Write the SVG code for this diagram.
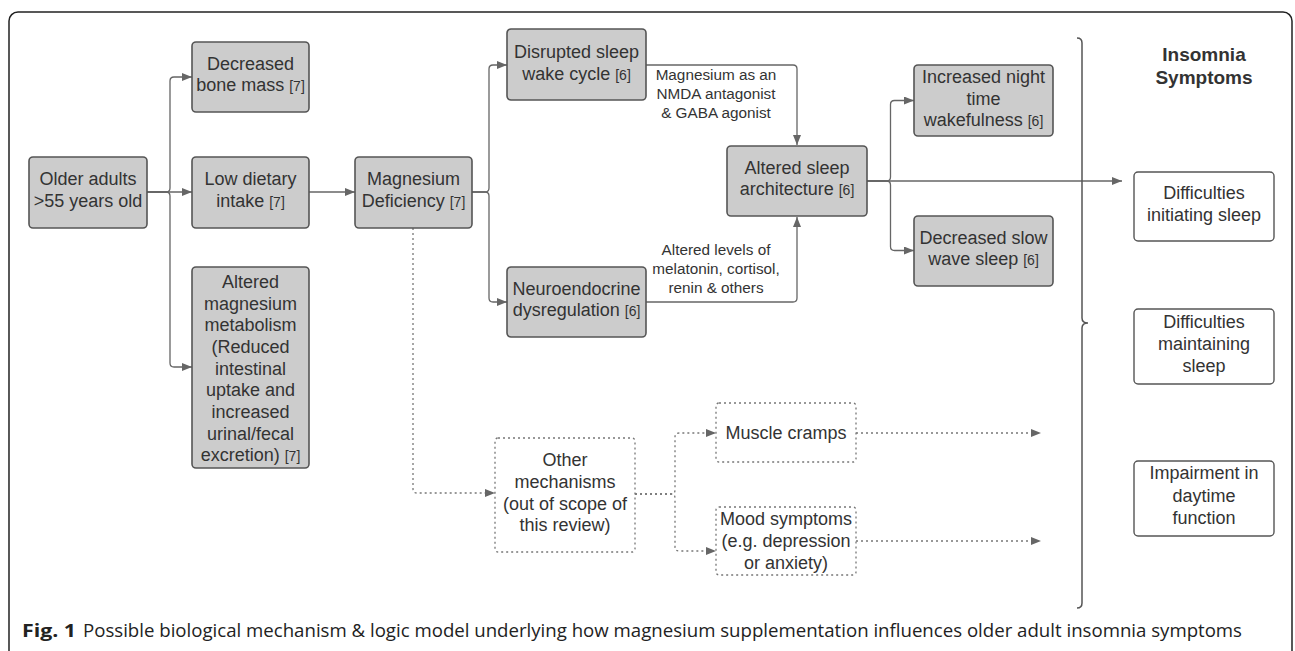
<svg xmlns="http://www.w3.org/2000/svg" width="1295" height="651" viewBox="0 0 1295 651">
<style>
.box{fill:#cccccc;stroke:#555;stroke-width:1.6}
.wbox{fill:#fff;stroke:#555;stroke-width:1.4}
.dbox{fill:none;stroke:#777;stroke-width:1.3;stroke-dasharray:2 3}
.t{font-family:"Liberation Sans",Arial,sans-serif;font-size:18px;fill:#333;text-anchor:middle}
.r{font-size:14px}
.lbl{font-family:"Liberation Sans",Arial,sans-serif;font-size:15.3px;fill:#333;text-anchor:middle}
.hd{font-family:"Liberation Sans",Arial,sans-serif;font-size:19px;font-weight:bold;fill:#333;text-anchor:middle}
.c{fill:none;stroke:#666;stroke-width:1.3}
.d{fill:none;stroke:#777;stroke-width:1.3;stroke-dasharray:2 3}
.cap{font-family:"Open Sans","Liberation Sans",sans-serif;font-size:18px;fill:#222}
</style>
<defs>
<marker id="ah" viewBox="0 0 10 8" refX="10" refY="4" markerWidth="10" markerHeight="8" markerUnits="userSpaceOnUse" orient="auto">
<path d="M0,0 L10,4 L0,8 z" fill="#666"/>
</marker>
</defs>
<rect x="9" y="12" width="1283" height="650" rx="9" fill="none" stroke="#222" stroke-width="1.5"/>

<g id="connectors">
<path class="c" d="M147,192 H166 Q170,192 170,188 V81 Q170,77 174,77 H192" marker-end="url(#ah)"/>
<path class="c" d="M147,192 H192" marker-end="url(#ah)"/>
<path class="c" d="M147,192 H166 Q170,192 170,196 V363 Q170,367 174,367 H192" marker-end="url(#ah)"/>
<path class="c" d="M309,192 H355" marker-end="url(#ah)"/>
<path class="c" d="M472,192 H485 Q489,192 489,188 V69 Q489,65 493,65 H507" marker-end="url(#ah)"/>
<path class="c" d="M472,192 H485 Q489,192 489,196 V298 Q489,302 493,302 H507" marker-end="url(#ah)"/>
<path class="c" d="M646,65 H793 Q797,65 797,69 V145" marker-end="url(#ah)"/>
<path class="c" d="M646,302 H793 Q797,302 797,298 V217" marker-end="url(#ah)"/>
<path class="c" d="M867,181 H886.5 Q890.5,181 890.5,177 V104.5 Q890.5,100.5 894.5,100.5 H914" marker-end="url(#ah)"/>
<path class="c" d="M867,181 H886.5 Q890.5,181 890.5,185 V246.5 Q890.5,250.5 894.5,250.5 H914" marker-end="url(#ah)"/>
<path class="c" d="M867,181 H1122" marker-end="url(#ah)"/>
<path class="d" d="M413,228 V489 Q413,493 417,493 H495" marker-end="url(#ah)"/>
<path class="d" d="M635,494 H671 Q675,494 675,490 V437 Q675,433 679,433 H716" marker-end="url(#ah)"/>
<path class="d" d="M635,494 H671 Q675,494 675,498 V547 Q675,551 679,551 H716" marker-end="url(#ah)"/>
<path class="d" d="M856,433 H1041" marker-end="url(#ah)"/>
<path class="d" d="M856,541 H1041" marker-end="url(#ah)"/>
<path d="M1077,38 Q1082,38 1082,43 V318 Q1082,323 1088,323 Q1082,323 1082,328 V603 Q1082,608 1077,608" fill="none" stroke="#555" stroke-width="1.5"/>
</g>

<g id="lbl-nmda">
<text class="lbl" x="716" y="80">Magnesium as an</text>
<text class="lbl" x="716" y="99">NMDA antagonist</text>
<text class="lbl" x="716" y="118">&amp; GABA agonist</text>
</g>
<g id="lbl-levels">
<text class="lbl" x="716" y="255">Altered levels of</text>
<text class="lbl" x="716" y="274">melatonin, cortisol,</text>
<text class="lbl" x="716" y="292.5">renin &amp; others</text>
</g>

<g id="older">
<rect class="box" x="29" y="157" width="118" height="71" rx="4"/>
<text class="t" x="88" y="185">Older adults</text>
<text class="t" x="88" y="206.7">&gt;55 years old</text>
</g>
<g id="bone">
<rect class="box" x="192" y="42" width="117" height="70" rx="4"/>
<text class="t" x="250.5" y="69.5">Decreased</text>
<text class="t" x="250.5" y="91">bone mass <tspan class="r">[7]</tspan></text>
</g>
<g id="dietary">
<rect class="box" x="192" y="157" width="117" height="71" rx="4"/>
<text class="t" x="250.5" y="185">Low dietary</text>
<text class="t" x="250.5" y="206.7">intake  <tspan class="r">[7]</tspan></text>
</g>
<g id="metabolism">
<rect class="box" x="192" y="267" width="117" height="201" rx="4"/>
<text class="t" x="250.5" y="288">Altered</text>
<text class="t" x="250.5" y="309.7">magnesium</text>
<text class="t" x="250.5" y="331.3">metabolism</text>
<text class="t" x="250.5" y="353">(Reduced</text>
<text class="t" x="250.5" y="374.7">intestinal</text>
<text class="t" x="250.5" y="396.3">uptake and</text>
<text class="t" x="250.5" y="418">increased</text>
<text class="t" x="250.5" y="439.7">urinal/fecal</text>
<text class="t" x="250.5" y="461.3">excretion) <tspan class="r">[7]</tspan></text>
</g>
<g id="mgdef">
<rect class="box" x="355" y="157" width="117" height="71" rx="4"/>
<text class="t" x="413.5" y="185">Magnesium</text>
<text class="t" x="413.5" y="206.7">Deficiency <tspan class="r">[7]</tspan></text>
</g>
<g id="disrupted">
<rect class="box" x="507" y="29" width="139" height="71" rx="4"/>
<text class="t" x="576.5" y="58">Disrupted sleep</text>
<text class="t" x="576.5" y="79.5">wake cycle <tspan class="r">[6]</tspan></text>
</g>
<g id="neuro">
<rect class="box" x="507" y="267" width="139" height="70" rx="4"/>
<text class="t" x="576.5" y="294.8">Neuroendocrine</text>
<text class="t" x="576.5" y="316.3">dysregulation <tspan class="r">[6]</tspan></text>
</g>
<g id="architecture">
<rect class="box" x="727" y="146" width="140" height="70" rx="4"/>
<text class="t" x="797" y="173.5">Altered sleep</text>
<text class="t" x="797" y="195">architecture <tspan class="r">[6]</tspan></text>
</g>
<g id="wakeful">
<rect class="box" x="914" y="65" width="139" height="71" rx="4"/>
<text class="t" x="983.5" y="83">Increased night</text>
<text class="t" x="983.5" y="104.7">time</text>
<text class="t" x="983.5" y="126.3">wakefulness <tspan class="r">[6]</tspan></text>
</g>
<g id="slowwave">
<rect class="box" x="914" y="216" width="139" height="70" rx="4"/>
<text class="t" x="983.5" y="243.5">Decreased slow</text>
<text class="t" x="983.5" y="265">wave sleep <tspan class="r">[6]</tspan></text>
</g>
<g id="heading">
<text class="hd" x="1204" y="61">Insomnia</text>
<text class="hd" x="1204" y="84">Symptoms</text>
</g>
<g id="initiating">
<rect class="wbox" x="1134" y="172" width="140" height="69" rx="4"/>
<text class="t" x="1204" y="199">Difficulties</text>
<text class="t" x="1204" y="220.7">initiating sleep</text>
</g>
<g id="maintaining">
<rect class="wbox" x="1134" y="309" width="140" height="75" rx="4"/>
<text class="t" x="1204" y="327.5">Difficulties</text>
<text class="t" x="1204" y="349.5">maintaining</text>
<text class="t" x="1204" y="371.5">sleep</text>
</g>
<g id="daytime">
<rect class="wbox" x="1134" y="461" width="140" height="75" rx="4"/>
<text class="t" x="1204" y="479">Impairment in</text>
<text class="t" x="1204" y="501.5">daytime</text>
<text class="t" x="1204" y="524">function</text>
</g>
<g id="other">
<rect class="dbox" x="495" y="438" width="140" height="114" rx="3"/>
<text class="t" x="565" y="465.5">Other</text>
<text class="t" x="565" y="487.5">mechanisms</text>
<text class="t" x="565" y="509.5">(out of scope of</text>
<text class="t" x="565" y="531">this review)</text>
</g>
<g id="cramps">
<rect class="dbox" x="716" y="403" width="140" height="59" rx="3"/>
<text class="t" x="786" y="438.8">Muscle cramps</text>
</g>
<g id="mood">
<rect class="dbox" x="716" y="507" width="140" height="68" rx="3"/>
<text class="t" x="786" y="524.5">Mood symptoms</text>
<text class="t" x="786" y="547">(e.g. depression</text>
<text class="t" x="786" y="569">or anxiety)</text>
</g>
<g id="caption">
<text class="cap" x="22" y="637" font-weight="bold" textLength="54" lengthAdjust="spacingAndGlyphs">Fig. 1</text>
<text class="cap" x="83" y="637" textLength="1159" lengthAdjust="spacingAndGlyphs">Possible biological mechanism &amp; logic model underlying how magnesium supplementation influences older adult insomnia symptoms</text>
</g>
</svg>
